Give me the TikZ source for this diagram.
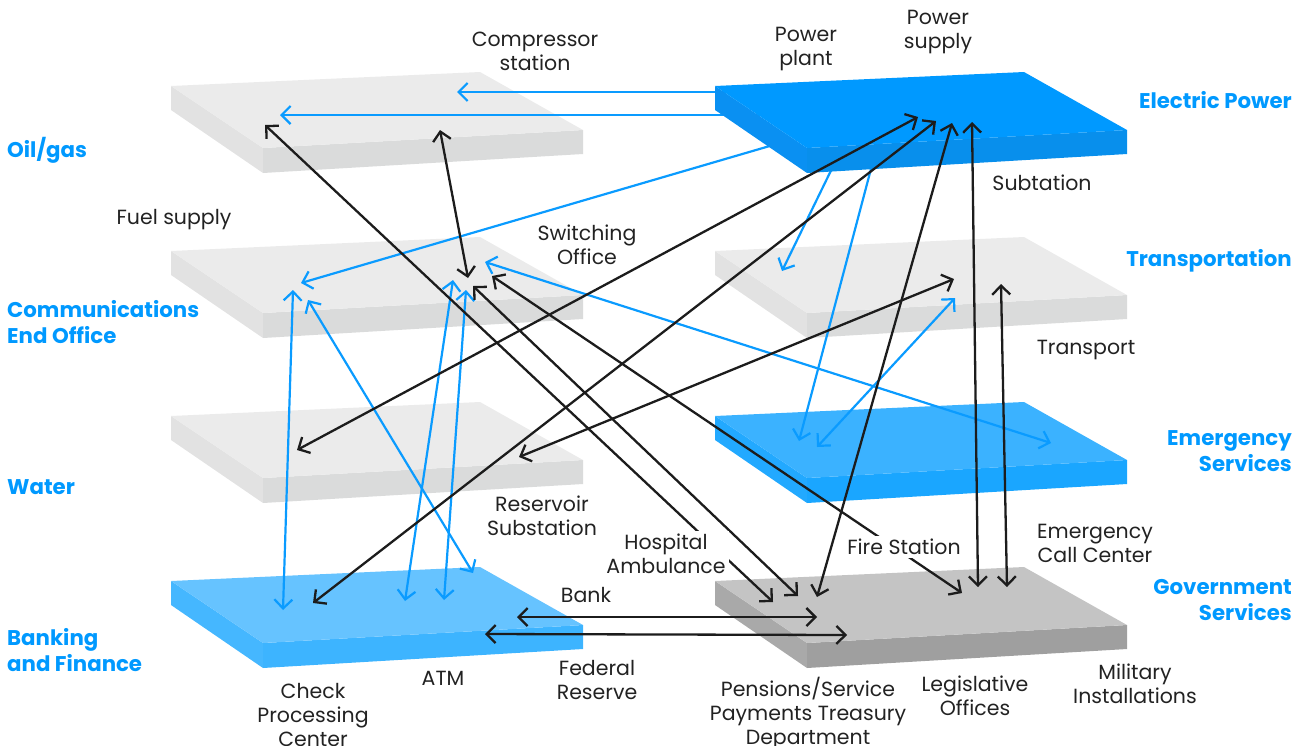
\documentclass[tikz,border=0pt]{standalone}
\usepackage{fontspec}
\setmainfont{Poppins}
\usetikzlibrary{arrows.meta}
\definecolor{grayTop}{HTML}{EBEBEB}
\definecolor{grayLeft}{HTML}{E2E2E2}
\definecolor{grayFront}{HTML}{DADBDB}
\definecolor{elecTop}{HTML}{0099FF}
\definecolor{elecLeft}{HTML}{0A90F2}
\definecolor{elecFront}{HTML}{088FEC}
\definecolor{emTop}{HTML}{3BB2FF}
\definecolor{emLeft}{HTML}{22A9FF}
\definecolor{emFront}{HTML}{1AA6FF}
\definecolor{bkTop}{HTML}{66C3FF}
\definecolor{bkLeft}{HTML}{45B7FF}
\definecolor{bkFront}{HTML}{3DB4FF}
\definecolor{gvTop}{HTML}{C4C4C4}
\definecolor{gvLeft}{HTML}{A9A9A9}
\definecolor{gvFront}{HTML}{9F9F9F}
\definecolor{lblue}{HTML}{0099FF}
\definecolor{ink}{HTML}{1C1C1C}
\definecolor{txt}{HTML}{222222}
\definecolor{lineblue}{HTML}{0A9BFF}
\newcommand\myplate[5]{%
  \begin{scope}[shift={(#1,#2)}]
    \fill[#4] (171,86) -- (263,148) -- (263,173) -- (171,110) -- cycle;
    \fill[#5] (263,148) -- (583,130) -- (583,154) -- (263,173) -- cycle;
    \fill[#3] (171,86) -- (480,72) -- (583,130) -- (263,148) -- cycle;
  \end{scope}}
\tikzset{
  tip/.tip={Straight Barb[length=9pt,width=18pt]},
  karr/.style={draw=ink, line width=2.3pt, tip-tip},
  barr/.style={draw=lineblue, line width=2.2pt, tip-tip},
  bone/.style={draw=lineblue, line width=2.2pt, -tip},
  lab/.style={font=\fontsize{20.5}{24}\selectfont, text=txt, align=center, inner sep=0pt},
  wlab/.style={lab, fill=white, inner sep=3pt},
  cat/.style={font=\fontsize{21.3}{25.5}\selectfont\bfseries, text=lblue, inner sep=0pt},
}
\begin{document}
\begin{tikzpicture}[x=1pt,y=-1pt]
\useasboundingbox (0,0) rectangle (1300,745);
% plates
\myplate{0}{0}{grayTop}{grayLeft}{grayFront}
\myplate{0}{165}{grayTop}{grayLeft}{grayFront}
\myplate{0}{330}{grayTop}{grayLeft}{grayFront}
\myplate{0}{495}{bkTop}{bkLeft}{bkFront}
\myplate{544}{165}{grayTop}{grayLeft}{grayFront}
\myplate{544}{330}{emTop}{emLeft}{emFront}
\myplate{544}{495}{gvTop}{gvLeft}{gvFront}
% endpoints
\coordinate (b1s) at (760,92);   \coordinate (b1e) at (457,92);
\coordinate (b2s) at (760,115);  \coordinate (b2e) at (280,115);
\coordinate (b3s) at (780,143);  \coordinate (b3e) at (301,283);
\coordinate (b4s) at (841,150);  \coordinate (b4e) at (782,271);
\coordinate (b5s) at (876,150);  \coordinate (b5e) at (799,441);
\coordinate (b6a) at (955,298);  \coordinate (b6b) at (817,447);
\coordinate (b7a) at (485,262);  \coordinate (b7b) at (1051,443);
\coordinate (b8a) at (293,290);  \coordinate (b8b) at (283,610);
\coordinate (b9a) at (308,300);  \coordinate (b9b) at (473,573);
\coordinate (b10a) at (453,280); \coordinate (b10b) at (405,601);
\coordinate (b11a) at (466,290); \coordinate (b11b) at (444,600);
\coordinate (k1a) at (265,125);  \coordinate (k1b) at (773,602);
\coordinate (k2a) at (440,130);  \coordinate (k2b) at (468,278);
\coordinate (k3a) at (473,286);  \coordinate (k3b) at (798,596);
\coordinate (k4a) at (492,276);  \coordinate (k4b) at (962,593);
\coordinate (k5a) at (918,117);  \coordinate (k5b) at (297,450);
\coordinate (k6a) at (936,121);  \coordinate (k6b) at (313,603);
\coordinate (k7a) at (952,123);  \coordinate (k7b) at (817,597);
\coordinate (k8a) at (972,122);  \coordinate (k8b) at (978,587);
\coordinate (k9a) at (954,279);  \coordinate (k9b) at (519,457);
\coordinate (k10a) at (1001,284); \coordinate (k10b) at (1007,587);
\coordinate (k11a) at (517,617); \coordinate (k11b) at (817,617);
\coordinate (k12a) at (485,634); \coordinate (k12b) at (847,635);
% blue lines leaving the electric power plate
\draw[bone] (b1s) -- (b1e);
\draw[bone] (b2s) -- (b2e);
\draw[bone] (b3s) -- (b3e);
\draw[bone] (b4s) -- (b4e);
\draw[bone] (b5s) -- (b5e);
\myplate{544}{0}{elecTop}{elecLeft}{elecFront}
% blue double arrows
\draw[barr] (b6a) -- (b6b);
\draw[barr] (b7a) -- (b7b);
\draw[barr] (b8a) -- (b8b);
\draw[barr] (b9a) -- (b9b);
\draw[barr] (b10a) -- (b10b);
\draw[barr] (b11a) -- (b11b);
% black double arrows
\draw[karr] (k1a) -- (k1b);
\draw[karr] (k2a) -- (k2b);
\draw[karr] (k3a) -- (k3b);
\draw[karr] (k4a) -- (k4b);
\draw[karr] (k5a) -- (k5b);
\draw[karr] (k6a) -- (k6b);
\draw[karr] (k7a) -- (k7b);
\draw[karr] (k8a) -- (k8b);
\draw[karr] (k9a) -- (k9b);
\draw[karr] (k10a) -- (k10b);
\draw[karr] (k11a) -- (k11b);
\draw[karr] (k12a) -- (k12b);
% category labels
\node[cat, anchor=west, align=left] (oil) at (7,150) {Oil/gas};
\node[cat, anchor=west, align=left] (comm) at (7,322) {Communications\\End Office};
\node[cat, anchor=west, align=left] (water) at (7,487) {Water};
\node[cat, anchor=west, align=left] (banking) at (7,650) {Banking\\and Finance};
\node[cat, anchor=east, align=right] (elec) at (1292,100) {Electric Power};
\node[cat, anchor=east, align=right] (transL) at (1292,261) {Transportation};
\node[cat, anchor=east, align=right] (emerg) at (1292,451) {Emergency\\Services};
\node[cat, anchor=east, align=right] (gov) at (1292,600) {Government\\Services};
% element labels
\node[lab] (comp) at (535,51) {Compressor\\station};
\node[lab] (pplant) at (806,49) {Power\\plant};
\node[lab] (psupply) at (938,32) {Power\\supply};
\node[lab] (subt) at (1042,183) {Subtation};
\node[lab] (fuel) at (174,220) {Fuel supply};
\node[lab] (switch) at (587,245) {Switching\\Office};
\node[lab] (transp) at (1086,350) {Transport};
\node[lab] (reserv) at (542,516) {Reservoir\\Substation};
\node[wlab] (hosp) at (666,554) {Hospital\\Ambulance};
\node[wlab] (fire) at (904,547) {Fire Station};
\node[lab] (ecall) at (1095,543) {Emergency\\Call Center};
\node[lab] (bank) at (586,595) {Bank};
\node[lab] (fed) at (597,680) {Federal\\Reserve};
\node[lab] (check) at (313,715) {Check\\Processing\\Center};
\node[lab] (atm) at (443,678) {ATM};
\node[lab] (pens) at (808,713) {Pensions/Service\\Payments Treasury\\Department};
\node[lab] (legis) at (975,696) {Legislative\\Offices};
\node[lab] (milit) at (1135,684) {Military\\Installations};
\end{tikzpicture}
\end{document}
